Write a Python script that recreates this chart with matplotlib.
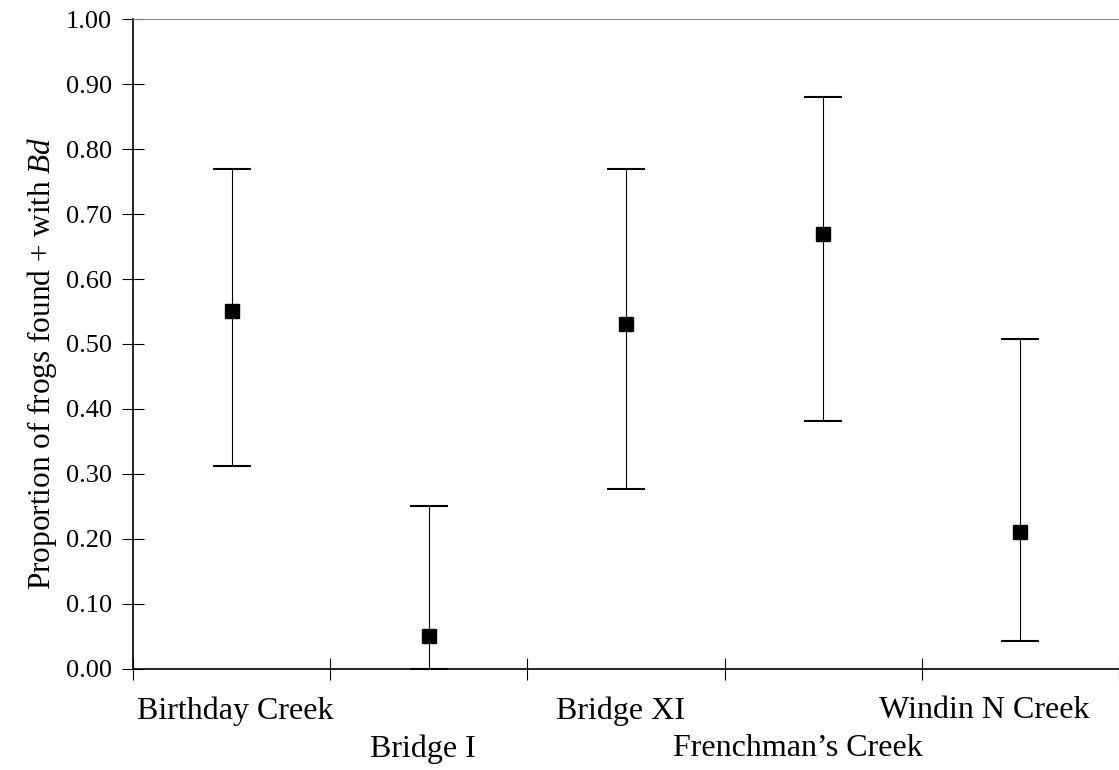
import matplotlib
matplotlib.use('Agg')
import matplotlib.pyplot as plt
import matplotlib.transforms as mtransforms
import numpy as np

# site data
sites = ['Birthday Creek', 'Bridge I', 'Bridge XI', "Frenchman\u2019s Creek", 'Windin N Creek']
prop = [0.55, 0.05, 0.53, 0.67, 0.21]
lower = [0.313, 0.0, 0.277, 0.381, 0.043]
upper = [0.77, 0.25, 0.77, 0.88, 0.508]
yticks = [0.0, 0.1, 0.2, 0.3, 0.4, 0.5, 0.6, 0.7, 0.8, 0.9, 1.0]

plt.rcParams['font.family'] = 'Liberation Serif'
plt.rcParams['mathtext.fontset'] = 'custom'
plt.rcParams['mathtext.rm'] = 'Liberation Serif'
plt.rcParams['mathtext.it'] = 'Liberation Serif:italic'

fig = plt.figure(figsize=(11.19, 7.70), dpi=100)
ax = fig.add_axes([0.1189, 0.1312, 0.8811, 0.8441])

x = np.arange(len(sites))
prop = np.array(prop)
yerr = [prop - np.array(lower), np.array(upper) - prop]
ax.errorbar(x, prop, yerr=yerr, fmt='s', color='black', ecolor='black',
            elinewidth=0.8, capsize=14, capthick=1.5, markersize=10, clip_on=False)

ax.set_xlim(-0.5, len(sites) - 0.5)
ax.set_ylim(0, 1)
ax.set_yticks(yticks)
ax.set_yticklabels([f'{v:.2f}' for v in yticks], fontsize=19)
ax.set_ylabel('Proportion of frogs found + with $Bd$', fontsize=22.5)
ax.yaxis.set_label_coords(-0.075, 0.471)

# boundary ticks only, category names placed in two alternating rows below
ax.set_xticks(np.arange(len(sites) + 1) - 0.5)
ax.set_xticklabels([])
ax.tick_params(axis='x', direction='inout', length=16, width=0.8)
ax.tick_params(axis='y', direction='inout', length=16, width=0.8, pad=7)

# small horizontal shifts of the labels and row depth (pixels), as in the reference
shifts = [4, -6, -6, -25, -36]
base = mtransforms.blended_transform_factory(ax.transData, ax.transAxes)
for i, name in enumerate(sites):
    dy = 42 if i % 2 == 0 else 80
    tr = base + mtransforms.ScaledTranslation(shifts[i] / 100, -dy / 100, fig.dpi_scale_trans)
    ax.text(x[i], 0, name, transform=tr, ha='center', va='center', fontsize=23, clip_on=False)

ax.spines['right'].set_visible(False)
ax.spines['top'].set_color('#888888')
ax.spines['left'].set_linewidth(1.2)
ax.spines['bottom'].set_linewidth(1.2)

plt.savefig('out.png', dpi=100)
plt.close()
